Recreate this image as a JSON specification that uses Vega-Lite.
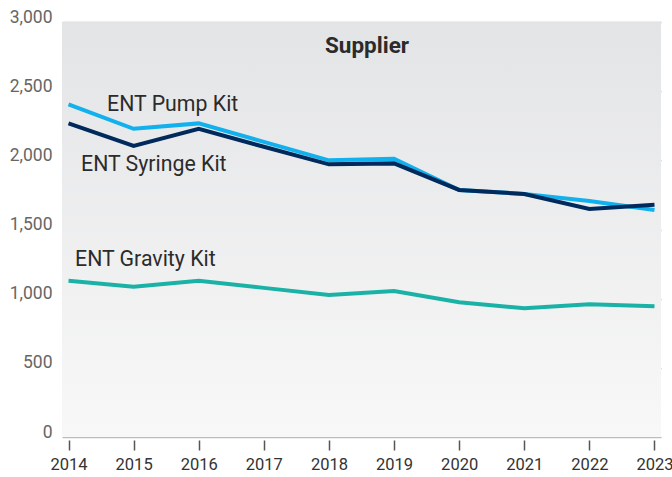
{
  "$schema": "https://vega.github.io/schema/vega-lite/v6.json",
  "width": 599,
  "height": 415,
  "autosize": {"type": "none"},
  "padding": {"left": 62, "top": 22, "right": 11, "bottom": 40},
  "background": "#ffffff",
  "config": {
    "font": "Roboto",
    "view": {"stroke": null},
    "axis": {"domain": false}
  },
  "datasets": {
    "series": [
      {"year": 2014, "kit": "ENT Pump Kit", "value": 2405},
      {"year": 2015, "kit": "ENT Pump Kit", "value": 2228},
      {"year": 2016, "kit": "ENT Pump Kit", "value": 2267},
      {"year": 2017, "kit": "ENT Pump Kit", "value": 2133},
      {"year": 2018, "kit": "ENT Pump Kit", "value": 2000},
      {"year": 2019, "kit": "ENT Pump Kit", "value": 2012},
      {"year": 2020, "kit": "ENT Pump Kit", "value": 1786},
      {"year": 2021, "kit": "ENT Pump Kit", "value": 1757},
      {"year": 2022, "kit": "ENT Pump Kit", "value": 1706},
      {"year": 2023, "kit": "ENT Pump Kit", "value": 1641},
      {"year": 2014, "kit": "ENT Syringe Kit", "value": 2267},
      {"year": 2015, "kit": "ENT Syringe Kit", "value": 2104},
      {"year": 2016, "kit": "ENT Syringe Kit", "value": 2227},
      {"year": 2017, "kit": "ENT Syringe Kit", "value": 2098},
      {"year": 2018, "kit": "ENT Syringe Kit", "value": 1971},
      {"year": 2019, "kit": "ENT Syringe Kit", "value": 1978},
      {"year": 2020, "kit": "ENT Syringe Kit", "value": 1786},
      {"year": 2021, "kit": "ENT Syringe Kit", "value": 1757},
      {"year": 2022, "kit": "ENT Syringe Kit", "value": 1648},
      {"year": 2023, "kit": "ENT Syringe Kit", "value": 1679},
      {"year": 2014, "kit": "ENT Gravity Kit", "value": 1130},
      {"year": 2015, "kit": "ENT Gravity Kit", "value": 1087},
      {"year": 2016, "kit": "ENT Gravity Kit", "value": 1130},
      {"year": 2017, "kit": "ENT Gravity Kit", "value": 1078},
      {"year": 2018, "kit": "ENT Gravity Kit", "value": 1027},
      {"year": 2019, "kit": "ENT Gravity Kit", "value": 1055},
      {"year": 2020, "kit": "ENT Gravity Kit", "value": 974},
      {"year": 2021, "kit": "ENT Gravity Kit", "value": 930},
      {"year": 2022, "kit": "ENT Gravity Kit", "value": 959},
      {"year": 2023, "kit": "ENT Gravity Kit", "value": 945}
    ],
    "labels": [
      {"kit": "ENT Pump Kit", "lx": 2015.6, "ly": 2400},
      {"kit": "ENT Syringe Kit", "lx": 2015.31, "ly": 1967},
      {"kit": "ENT Gravity Kit", "lx": 2015.18, "ly": 1280}
    ],
    "titles": [{"t": "Supplier", "tx": 2018.585, "ty": 2827}],
    "frame": [{"x0": 2013.9, "x1": 2023.1, "y0": 0, "y1": 3000}]
  },
  "layer": [
    {
      "data": {"name": "frame"},
      "mark": {
        "type": "rect",
        "fill": {
          "gradient": "linear",
          "x1": 0, "y1": 0, "x2": 0, "y2": 1,
          "stops": [
            {"offset": 0, "color": "#e3e4e6"},
            {"offset": 1, "color": "#f8f8f8"}
          ]
        }
      },
      "encoding": {
        "x": {"field": "x0", "type": "quantitative", "scale": {"domain": [2013.9, 2023.1], "nice": false, "zero": false}},
        "x2": {"field": "x1"},
        "y": {"field": "y0", "type": "quantitative", "scale": {"domain": [0, 3000], "nice": false}},
        "y2": {"field": "y1"}
      }
    },
    {
      "data": {"name": "series"},
      "mark": {"type": "line", "strokeWidth": 4, "strokeJoin": "miter", "clip": false},
      "encoding": {
        "x": {
          "field": "year", "type": "quantitative",
          "scale": {"domain": [2013.9, 2023.1], "nice": false, "zero": false},
          "axis": {
            "title": null,
            "values": [2014, 2015, 2016, 2017, 2018, 2019, 2020, 2021, 2022, 2023],
            "format": "d",
            "grid": false,
            "ticks": true,
            "tickSize": 10,
            "offset": 3,
            "tickColor": "#555555",
            "tickWidth": 1.5,
            "labelFontSize": 16.5,
            "labelColor": "#333333",
            "labelPadding": 6,
            "labelFont": "Roboto"
          }
        },
        "y": {
          "field": "value", "type": "quantitative",
          "scale": {"domain": [0, 3000], "nice": false},
          "axis": {
            "title": null,
            "values": [0, 500, 1000, 1500, 2000, 2500, 3000],
            "format": ",d",
            "grid": true,
            "gridColor": "#bdbdbd",
            "gridWidth": 1.5,
            "ticks": false,
            "labelFontSize": 17.5,
            "labelColor": "#666666",
            "labelPadding": 10,
            "labelBaseline": "alphabetic",
            "labelFont": "Roboto"
          }
        },
        "color": {
          "field": "kit", "type": "nominal",
          "scale": {"domain": ["ENT Pump Kit", "ENT Syringe Kit", "ENT Gravity Kit"], "range": ["#12b0ec", "#002a5c", "#1ab2a6"]},
          "legend": null
        }
      }
    },
    {
      "data": {"name": "labels"},
      "mark": {"type": "text", "fontSize": 21.3, "font": "Roboto", "color": "#2b2b2b", "align": "center", "baseline": "middle"},
      "encoding": {
        "x": {"field": "lx", "type": "quantitative"},
        "y": {"field": "ly", "type": "quantitative"},
        "text": {"field": "kit"}
      }
    },
    {
      "data": {"name": "titles"},
      "mark": {"type": "text", "fontSize": 22.5, "fontWeight": "bold", "font": "Roboto", "color": "#2b2b2b", "align": "center", "baseline": "middle"},
      "encoding": {
        "x": {"field": "tx", "type": "quantitative"},
        "y": {"field": "ty", "type": "quantitative"},
        "text": {"field": "t"}
      }
    }
  ]
}
